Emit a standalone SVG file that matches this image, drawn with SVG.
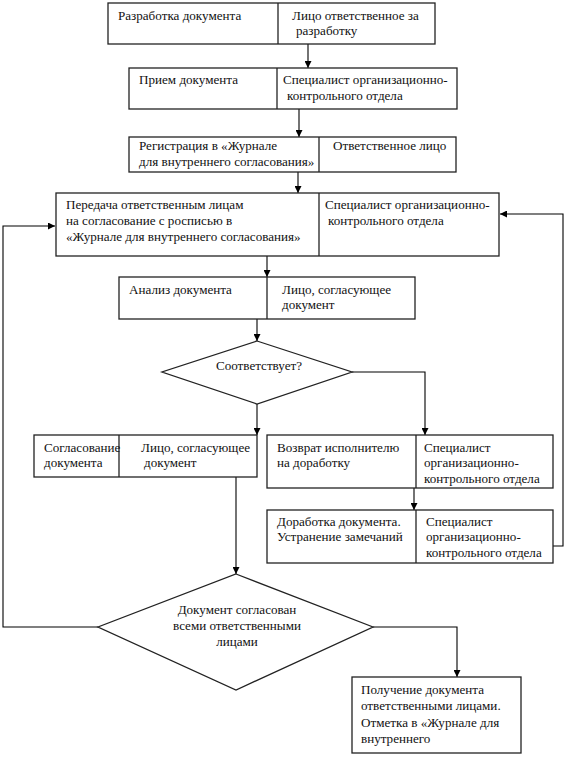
<svg xmlns="http://www.w3.org/2000/svg" width="567" height="759" viewBox="0 0 567 759">
<defs>
<marker id="ah" viewBox="0 0 10 10" refX="10" refY="5" markerWidth="7" markerHeight="7" markerUnits="userSpaceOnUse" orient="auto">
<path d="M0,0 L10,5 L0,10 z" fill="#000"/>
</marker>
<style>
.box{fill:#fff;stroke:#222;stroke-width:1.3}
.div{stroke:#222;stroke-width:1.3}
.c{fill:none;stroke:#000;stroke-width:1.1;marker-end:url(#ah)}
text{font-family:"Liberation Serif","Times New Roman",serif;font-size:13.1px;fill:#111}
.m{text-anchor:middle}
</style>
</defs>
<rect width="567" height="759" fill="#fff"/>
<g id="connectors">
<path class="c" d="M308,44 V68"/>
<path class="c" d="M299,109 V137"/>
<path class="c" d="M298,172 V193"/>
<path class="c" d="M267,256 V277"/>
<path class="c" d="M257,319 V341"/>
<path class="c" d="M257,404 V435"/>
<path class="c" d="M352,372 H425 V435"/>
<path class="c" d="M414,488 V510"/>
<path class="c" d="M553,546 H563 V214 H500"/>
<path class="c" d="M236,477 V574"/>
<path class="c" d="M98,627 H3 V226 H55"/>
<path class="c" d="M373,627 H457 V677"/>
</g>
<g id="n1">
<rect class="box" x="108" y="3" width="327" height="41"/>
<line class="div" x1="278" y1="3" x2="278" y2="44"/>
<text x="118" y="20">Разработка документа</text>
<text x="292" y="20">Лицо ответственное за</text>
<text x="296" y="35">разработку</text>
</g>
<g id="n2">
<rect class="box" x="129" y="68" width="328" height="41"/>
<line class="div" x1="277" y1="68" x2="277" y2="109"/>
<text x="139" y="84">Прием документа</text>
<text x="283" y="84">Специалист организационно-</text>
<text x="287" y="100">контрольного отдела</text>
</g>
<g id="n3">
<rect class="box" x="129" y="137" width="327" height="35"/>
<line class="div" x1="319" y1="137" x2="319" y2="172"/>
<text x="139" y="150">Регистрация в «Журнале</text>
<text x="139" y="166">для внутреннего согласования»</text>
<text x="333" y="150">Ответственное лицо</text>
</g>
<g id="n4">
<rect class="box" x="56" y="193" width="443" height="63"/>
<line class="div" x1="319" y1="193" x2="319" y2="256"/>
<text x="66" y="209">Передача ответственным лицам</text>
<text x="66" y="225">на согласование с росписью в</text>
<text x="66" y="241">«Журнале для внутреннего согласования»</text>
<text x="325" y="209">Специалист организационно-</text>
<text x="328" y="225">контрольного отдела</text>
</g>
<g id="n5">
<rect class="box" x="119" y="277" width="296" height="42"/>
<line class="div" x1="267" y1="277" x2="267" y2="319"/>
<text x="129" y="294">Анализ документа</text>
<text x="282" y="294">Лицо, согласующее</text>
<text x="282" y="309">документ</text>
</g>
<g id="d1">
<polygon class="box" points="257,341 352,372 257,404 162,372"/>
<text class="m" x="259" y="370">Соответствует?</text>
</g>
<g id="n6">
<rect class="box" x="34" y="435" width="223" height="42"/>
<line class="div" x1="119" y1="435" x2="119" y2="477"/>
<text x="44" y="452">Согласование</text>
<text x="44" y="467">документа</text>
<text x="141" y="452">Лицо, согласующее</text>
<text x="144" y="467">документ</text>
</g>
<g id="n7">
<rect class="box" x="267" y="435" width="286" height="53"/>
<line class="div" x1="416" y1="435" x2="416" y2="488"/>
<text x="277" y="452">Возврат исполнителю</text>
<text x="277" y="467">на доработку</text>
<text x="424" y="452">Специалист</text>
<text x="424" y="467">организационно-</text>
<text x="424" y="483">контрольного отдела</text>
</g>
<g id="n8">
<rect class="box" x="267" y="510" width="286" height="53"/>
<line class="div" x1="416" y1="510" x2="416" y2="563"/>
<text x="277" y="526">Доработка документа.</text>
<text x="277" y="541">Устранение замечаний</text>
<text x="426" y="526">Специалист</text>
<text x="426" y="541">организационно-</text>
<text x="426" y="557">контрольного отдела</text>
</g>
<g id="d2">
<polygon class="box" points="236,574 373,627 236,690 98,627"/>
<text class="m" x="237" y="614">Документ согласован</text>
<text class="m" x="237" y="630">всеми ответственными</text>
<text class="m" x="237" y="646">лицами</text>
</g>
<g id="n9">
<rect class="box" x="352" y="677" width="169" height="76"/>
<text x="361" y="694">Получение документа</text>
<text x="361" y="710">ответственными лицами.</text>
<text x="361" y="727">Отметка в «Журнале для</text>
<text x="361" y="743">внутреннего</text>
</g>
</svg>
